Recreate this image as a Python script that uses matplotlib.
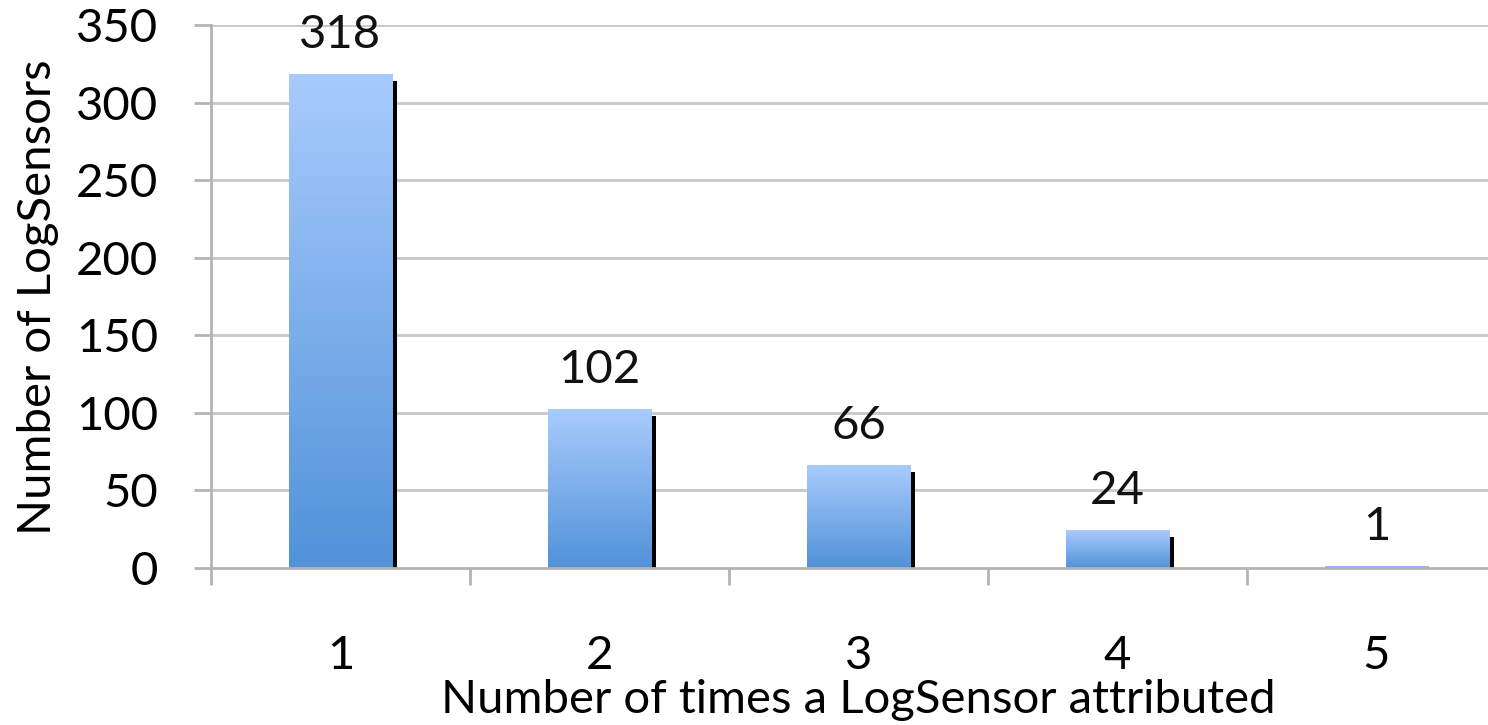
import numpy as np
import matplotlib
matplotlib.use("Agg")
import matplotlib.pyplot as plt
from matplotlib.colors import LinearSegmentedColormap

categories = ["1", "2", "3", "4", "5"]
counts = [318, 102, 66, 24, 1]
yticks = [0, 50, 100, 150, 200, 250, 300, 350]

plt.rcParams["font.family"] = ["Lato", "DejaVu Sans"]
FS = 34

W, H = 1488, 725
fig = plt.figure(figsize=(W / 100, H / 100), dpi=100)
left_px, right_px, top_px, bottom_px = 211, 1488, 25, 568
ax = fig.add_axes([left_px / W, 1 - bottom_px / H,
                   (right_px - left_px) / W, (bottom_px - top_px) / H])

cat_px = 259.0
x = np.arange(1, len(counts) + 1)
xmax = 0.5 + (right_px - left_px) / cat_px

grid_color = "#c8c8c8"
for yv in yticks[1:]:
    ax.axhline(yv, color=grid_color, lw=2, zorder=0)

width = 0.4
shadow_dx = 5 / cat_px
shadow_dy = 6 * 350 / (bottom_px - top_px)
cmap = LinearSegmentedColormap.from_list("barfill", ["#5192d9", "#a8cbfd"])
grad = np.linspace(0, 1, 256).reshape(-1, 1)

for xi, v in zip(x, counts):
    # drop shadow on the right edge
    sh = max(v - shadow_dy, 0)
    if sh > 0:
        ax.bar(xi + shadow_dx, sh, width=width, color="black", zorder=1)
    x0, x1 = xi - width / 2, xi + width / 2
    ax.imshow(grad, cmap=cmap, origin="lower", aspect="auto",
              extent=(x0, x1, 0, v), zorder=2, interpolation="bilinear")
    ax.text(xi, v + 12, str(v), ha="center", va="bottom", fontsize=FS, color="#111111")

ax.set_xlim(0.5, xmax)
ax.set_ylim(0, 350)

for s in ["top", "right"]:
    ax.spines[s].set_visible(False)
for s in ["left", "bottom"]:
    ax.spines[s].set_color("#b4b4b4")
    ax.spines[s].set_linewidth(2)

ax.set_yticks(yticks)
ax.set_yticklabels([str(t) for t in yticks], fontsize=FS)
ax.tick_params(axis="y", length=12, width=2, color="#b4b4b4", pad=26)

# category ticks sit on the boundaries between categories
ax.set_xticks(np.arange(0.5, xmax, 1.0))
ax.set_xticklabels([])
ax.tick_params(axis="x", length=12, width=2, color="#b4b4b4")
ax.set_xticks(x, minor=True)
ax.set_xticklabels(categories, minor=True, fontsize=FS)
ax.tick_params(axis="x", which="minor", length=0, pad=48)

fig.text(38 / W, 1 - 297 / H, "Number of LogSensors", rotation=90,
         ha="center", va="center", fontsize=FS)
fig.text(858 / W, 1 - 700 / H, "Number of times a LogSensor attributed",
         ha="center", va="center", fontsize=FS)

fig.savefig("out.png", dpi=100)
